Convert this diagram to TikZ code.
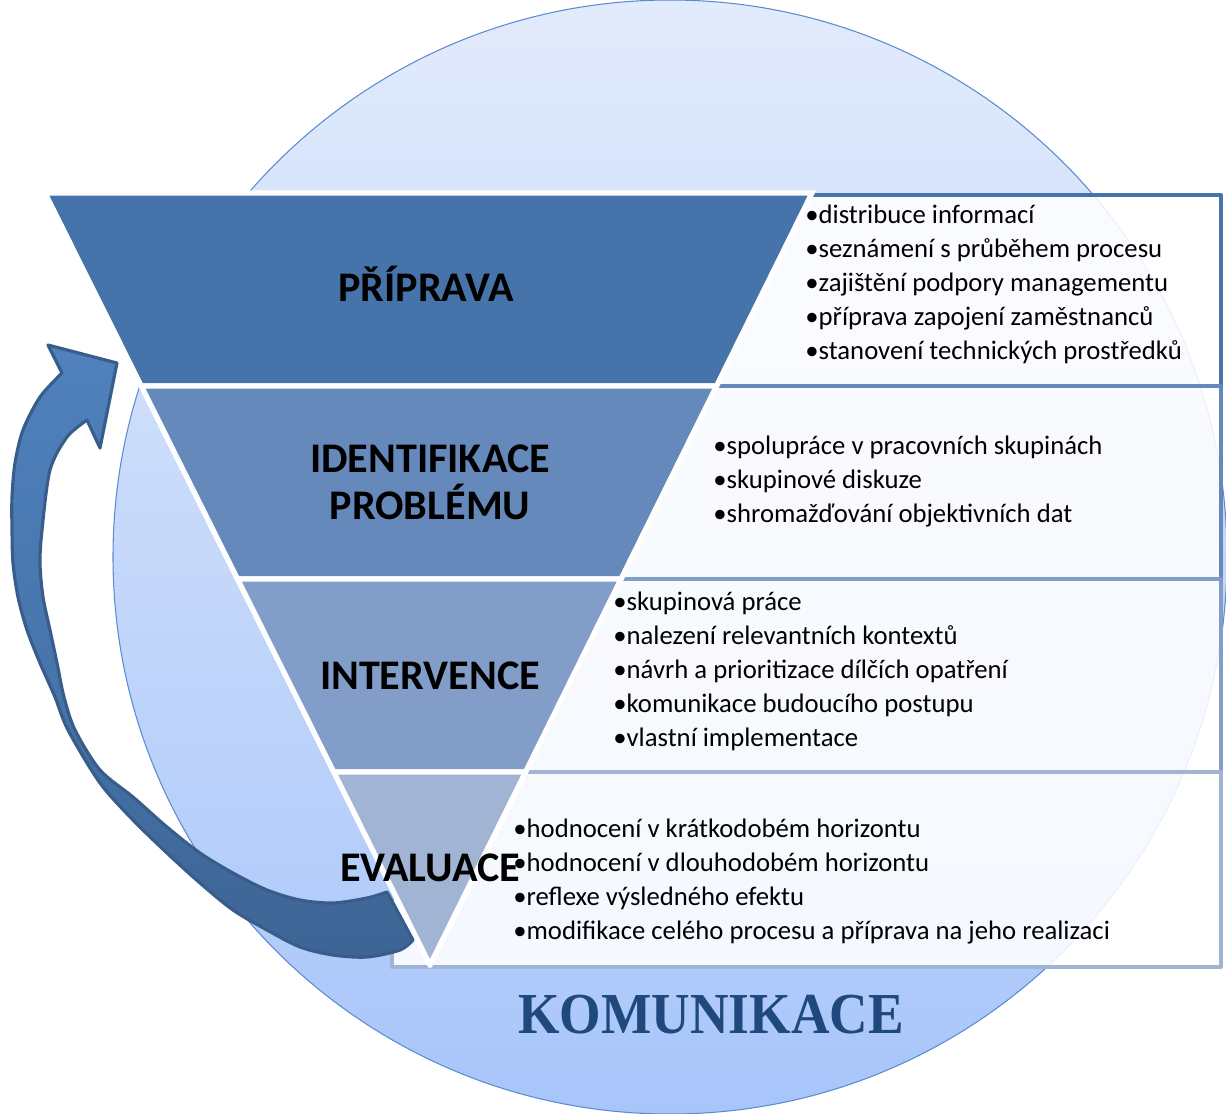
\documentclass[tikz,border=0pt]{standalone}
\usepackage{fontspec}
\setmainfont{Carlito}
\newfontfamily\komfont{Liberation Serif}
\definecolor{bandA}{HTML}{4674AA}
\definecolor{bandB}{HTML}{6689BC}
\definecolor{bandC}{HTML}{819DC8}
\definecolor{bandD}{HTML}{A1B4D4}
\definecolor{circTop}{HTML}{E2EBFB}
\definecolor{circBot}{HTML}{A8C5FA}
\definecolor{circEdge}{HTML}{5B8BD0}
\definecolor{arrLight}{HTML}{4F81BD}
\definecolor{arrDark}{HTML}{3D6494}
\definecolor{arrEdge}{HTML}{385D8A}
\definecolor{komBlue}{HTML}{1F497D}
\begin{document}
\begin{tikzpicture}[x=0.02cm, y=-0.02cm, line join=round,
	head/.style={font=\fontsize{24}{27}\selectfont\bfseries, anchor=base},
	item/.style={font=\fontsize{15.2}{19}\selectfont, anchor=base west, inner sep=0pt},
	textbox/.style={fill=white, fill opacity=.88, line width=2.2pt}]
	\useasboundingbox (0,0) rectangle (1226,1113);
	% background circle
	\shade[top color=circTop, bottom color=circBot, draw=circEdge, line width=.6pt] (670,557) circle (557);
	% text boxes behind the funnel
	\foreach \ya/\yb/\col in {195/386/bandA, 386/579/bandB, 579/772/bandC, 772/967/bandD}
		\draw[textbox, draw=\col] (392,\ya) rectangle (1221,\yb);
	% funnel bands
	\foreach \ya/\yb/\col in {193/386/bandA, 386/579/bandB, 579/772/bandC, 772/965/bandD}{
		\pgfmathsetmacro\la{45+(\ya-193)*0.4987} \pgfmathsetmacro\lb{45+(\yb-193)*0.4987}
		\pgfmathsetmacro\ra{812-(\ya-193)*0.4948} \pgfmathsetmacro\rb{812-(\yb-193)*0.4948}
		\filldraw[fill=\col, draw=white, line width=3pt, line join=miter] (\la,\ya)--(\ra,\ya)--(\rb,\yb)--(\lb,\yb)--cycle;
	}
	% curved arrow back to the start
	\draw[top color=arrLight, bottom color=arrDark, middle color=arrLight!60!arrDark, draw=arrEdge, line width=1.8pt]
		plot[smooth] coordinates {(387,892) (367,898) (333,903) (300,900) (267,890) (233,873) (200,853) (167,827) (133,797) (100,770) (75,730) (64,697) (57,663) (50,630) (43,597) (40,563) (42,530) (50,470) (67,437) (87,420)}
		-- (100,448) -- (117,363) -- (48,345) -- (62,373)
		-- plot[smooth] coordinates {(62,373) (40,397) (23,430) (15,463) (12,497) (12,530) (13,563) (18,597) (27,630) (40,663) (55,697) (68,730) (100,783) (133,820) (167,853) (200,883) (233,910) (267,930) (300,947) (333,955) (367,957) (400,950) (413,940)}
		-- cycle;
	% headings
	\node[head] (pripr) at (426,301) {PŘÍPRAVA};
	\node[head] (ident) at (430,472) {IDENTIFIKACE};
	\node[head] (identB) at (430,519) {PROBLÉMU};
	\node[head] (interv) at (430,689) {INTERVENCE};
	\node[head] (eval) at (430,881) {EVALUACE};
	% bullet lists
	\foreach \t [count=\i] in {distribuce informací, seznámení s průběhem procesu, zajištění podpory managementu, příprava zapojení zaměstnanců, stanovení technických prostředků}
		\node[item] (pripr-\i) at (805,{189+34*\i}) {•\t};
	\foreach \t [count=\i] in {spolupráce v pracovních skupinách, skupinové diskuze, shromažďování objektivních dat}
		\node[item] (ident-\i) at (713,{420+34*\i}) {•\t};
	\foreach \t [count=\i] in {skupinová práce, nalezení relevantních kontextů, návrh a prioritizace dílčích opatření, komunikace budoucího postupu, vlastní implementace}
		\node[item] (interv-\i) at (613,{576+34*\i}) {•\t};
	\foreach \t [count=\i] in {hodnocení v krátkodobém horizontu, hodnocení v dlouhodobém horizontu, reflexe výsledného efektu, modifikace celého procesu a příprava na jeho realizaci}
		\node[item] (eval-\i) at (513,{803+34*\i}) {•\t};
	\node[font=\komfont\bfseries\fontsize{33}{36}\selectfont, text=komBlue, anchor=base] (kom) at (711,1033) {\scalebox{0.92}[1]{KOMUNIKACE}};
\end{tikzpicture}
\end{document}
